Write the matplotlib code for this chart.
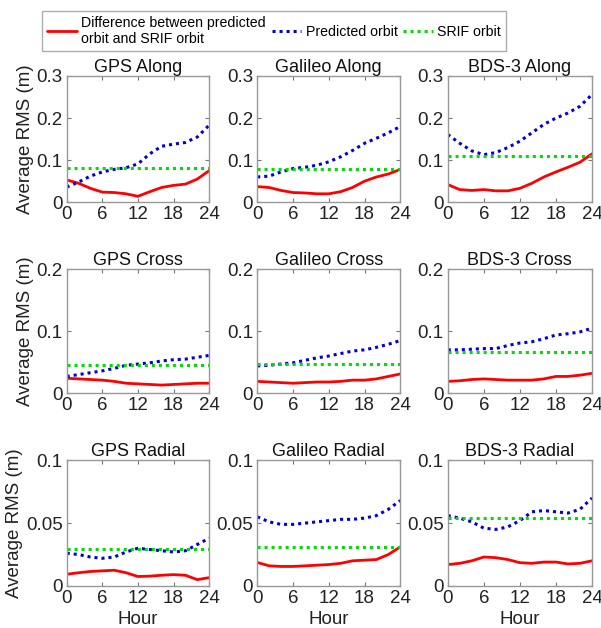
import numpy as np
import matplotlib.pyplot as plt

plt.rcParams['font.family'] = ['Liberation Sans', 'DejaVu Sans']

hours = [0, 2, 4, 6, 8, 10, 12, 14, 16, 18, 20, 22, 24]

# Along
gps_along_diff = [0.053, 0.045, 0.033, 0.024, 0.023, 0.020, 0.014, 0.025, 0.035, 0.040, 0.043, 0.055, 0.075]
gps_along_pred = [0.036, 0.048, 0.062, 0.072, 0.078, 0.082, 0.091, 0.115, 0.133, 0.138, 0.142, 0.155, 0.183]
gps_along_srif = 0.082
gal_along_diff = [0.037, 0.035, 0.028, 0.023, 0.022, 0.020, 0.020, 0.025, 0.035, 0.050, 0.060, 0.067, 0.078]
gal_along_pred = [0.060, 0.062, 0.072, 0.080, 0.083, 0.088, 0.096, 0.108, 0.123, 0.140, 0.152, 0.165, 0.180]
gal_along_srif = 0.080
bds_along_diff = [0.042, 0.030, 0.028, 0.030, 0.027, 0.027, 0.033, 0.045, 0.060, 0.072, 0.083, 0.095, 0.115]
bds_along_pred = [0.161, 0.140, 0.122, 0.113, 0.118, 0.130, 0.145, 0.165, 0.185, 0.200, 0.212, 0.228, 0.256]
bds_along_srif = 0.109

# Cross
gps_cross_diff = [0.024, 0.023, 0.022, 0.021, 0.019, 0.016, 0.015, 0.014, 0.013, 0.014, 0.015, 0.016, 0.016]
gps_cross_pred = [0.027, 0.030, 0.033, 0.036, 0.040, 0.045, 0.047, 0.049, 0.052, 0.054, 0.055, 0.058, 0.061]
gps_cross_srif = 0.046
gal_cross_diff = [0.019, 0.018, 0.017, 0.016, 0.017, 0.018, 0.018, 0.019, 0.021, 0.021, 0.023, 0.027, 0.031]
gal_cross_pred = [0.044, 0.045, 0.047, 0.049, 0.053, 0.057, 0.060, 0.064, 0.068, 0.070, 0.074, 0.079, 0.085]
gal_cross_srif = 0.047
bds_cross_diff = [0.019, 0.020, 0.022, 0.023, 0.022, 0.021, 0.021, 0.021, 0.023, 0.027, 0.027, 0.029, 0.032]
bds_cross_pred = [0.070, 0.070, 0.071, 0.072, 0.072, 0.077, 0.081, 0.083, 0.088, 0.094, 0.096, 0.099, 0.105]
bds_cross_srif = 0.066

# Radial
gps_radial_diff = [0.0093, 0.0105, 0.0115, 0.0120, 0.0125, 0.0105, 0.0075, 0.0078, 0.0085, 0.0090, 0.0085, 0.0050, 0.0066]
gps_radial_pred = [0.026, 0.025, 0.023, 0.022, 0.023, 0.027, 0.030, 0.029, 0.028, 0.027, 0.028, 0.033, 0.038]
gps_radial_srif = 0.0295
gal_radial_diff = [0.0187, 0.0160, 0.0155, 0.0155, 0.0160, 0.0165, 0.0170, 0.0180, 0.0200, 0.0205, 0.0210, 0.0250, 0.0310]
gal_radial_pred = [0.055, 0.051, 0.049, 0.049, 0.050, 0.051, 0.052, 0.053, 0.053, 0.054, 0.056, 0.061, 0.068]
gal_radial_srif = 0.031
bds_radial_diff = [0.017, 0.018, 0.020, 0.023, 0.0225, 0.021, 0.0185, 0.018, 0.019, 0.019, 0.0175, 0.018, 0.020]
bds_radial_pred = [0.056, 0.054, 0.051, 0.046, 0.045, 0.047, 0.052, 0.059, 0.060, 0.059, 0.058, 0.061, 0.070]
bds_radial_srif = 0.054

titles = [['GPS Along', 'Galileo Along', 'BDS-3 Along'],
          ['GPS Cross', 'Galileo Cross', 'BDS-3 Cross'],
          ['GPS Radial', 'Galileo Radial', 'BDS-3 Radial']]
panels = [[(gps_along_diff, gps_along_pred, gps_along_srif),
           (gal_along_diff, gal_along_pred, gal_along_srif),
           (bds_along_diff, bds_along_pred, bds_along_srif)],
          [(gps_cross_diff, gps_cross_pred, gps_cross_srif),
           (gal_cross_diff, gal_cross_pred, gal_cross_srif),
           (bds_cross_diff, bds_cross_pred, bds_cross_srif)],
          [(gps_radial_diff, gps_radial_pred, gps_radial_srif),
           (gal_radial_diff, gal_radial_pred, gal_radial_srif),
           (bds_radial_diff, bds_radial_pred, bds_radial_srif)]]
ylims = [0.3, 0.2, 0.1]
yticks = [[0, 0.1, 0.2, 0.3], [0, 0.1, 0.2], [0, 0.05, 0.1]]
yticklabels = [['0', '0.1', '0.2', '0.3'], ['0', '0.1', '0.2'], ['0', '0.05', '0.1']]

fig = plt.figure(figsize=(6.01, 6.28), dpi=100)

lefts = [0.111, 0.428, 0.745]
widths = [0.237, 0.238, 0.240]
bottoms = [0.678, 0.374, 0.067]
heights = [0.201, 0.197, 0.200]

handles = None
for r in range(3):
    for c in range(3):
        ax = fig.add_axes([lefts[c], bottoms[r], widths[c], heights[r]])
        diff, pred, srif = panels[r][c]
        h1, = ax.plot(hours, diff, color='#ff0000', lw=2, solid_capstyle='round')
        h2, = ax.plot(hours, pred, color='#0000dd', lw=2.2, linestyle=(0, (1, 1.3)))
        h3, = ax.plot(hours, [srif] * len(hours), color='#00dd00', lw=2.2, linestyle=(0, (1, 1.3)))
        handles = [h1, h2, h3]
        ax.set_xlim(0, 24)
        ax.set_ylim(0, ylims[r])
        ax.set_xticks([0, 6, 12, 18, 24])
        ax.set_yticks(yticks[r])
        ax.set_yticklabels(yticklabels[r])
        ax.tick_params(direction='in', top=True, right=True, length=3, width=0.8,
                       labelsize=13.5, colors='#777777', labelcolor='#222222', pad=3)
        for s in ax.spines.values():
            s.set_color('#999999')
            s.set_linewidth(1)
        ax.set_title(titles[r][c], fontsize=13, pad=3, color='#111111')
        if c == 0:
            ax.set_ylabel('Average RMS (m)', fontsize=13.5, color='#222222', labelpad=2)
        if r == 2:
            ax.set_xlabel('Hour', fontsize=13.5, color='#222222', labelpad=3)

leg = fig.legend(handles, ['Difference between predicted\norbit and SRIF orbit', 'Predicted orbit', 'SRIF orbit'],
                 loc='center', bbox_to_anchor=(0.456, 0.951), ncol=3, fontsize=10.2,
                 frameon=True, fancybox=False, handlelength=2.1, handletextpad=0.3,
                 columnspacing=0.4, borderpad=0.35, labelspacing=0.2)
leg.get_frame().set_edgecolor('#999999')
leg.get_frame().set_linewidth(1)

plt.savefig('out.png', dpi=100)
